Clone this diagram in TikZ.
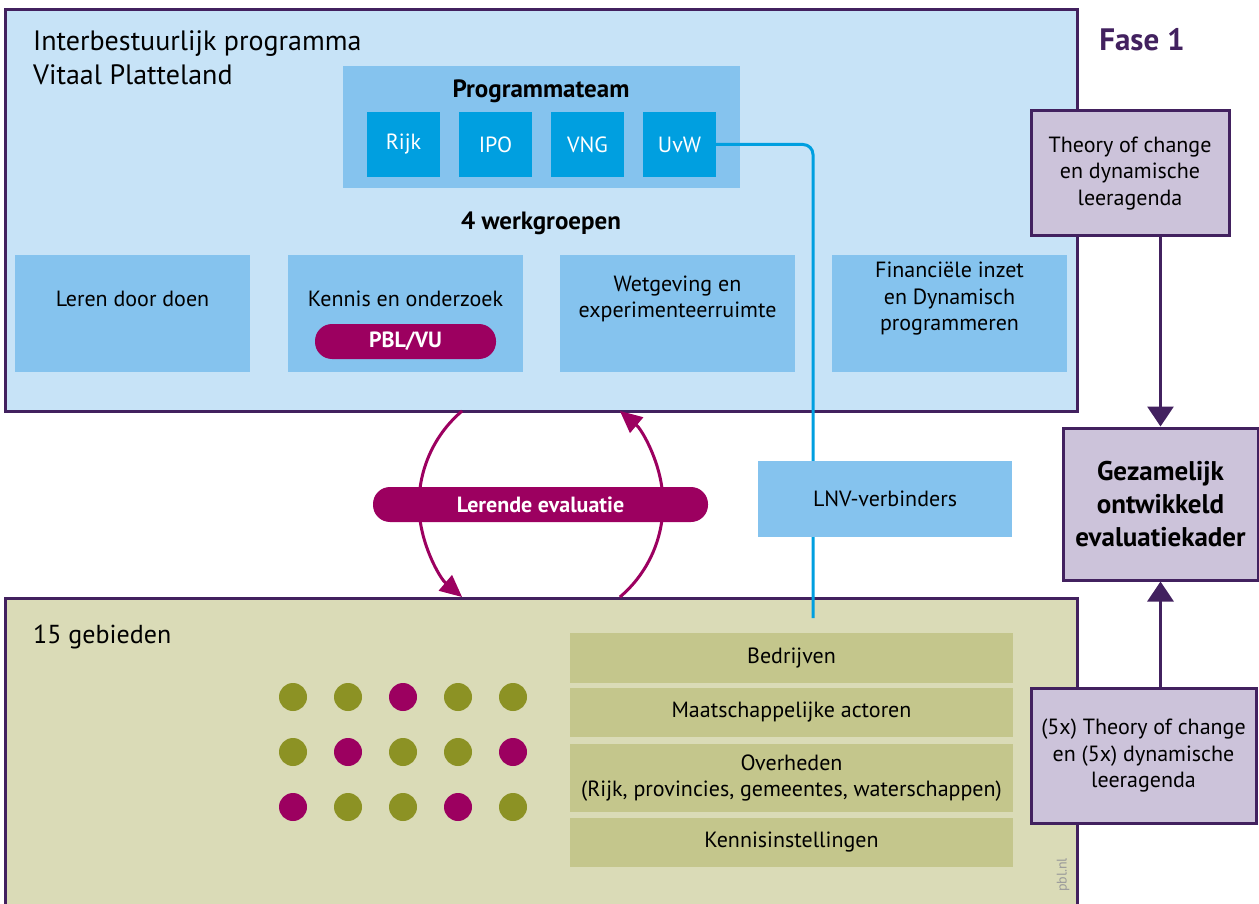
\documentclass[tikz,border=0pt]{standalone}
\usepackage{fontspec}
\setmainfont{PT Sans}
\usetikzlibrary{arrows.meta}

\definecolor{paars}{HTML}{42215F}
\definecolor{lichtblauw}{HTML}{C7E3F7}
\definecolor{middenblauw}{HTML}{85C3EE}
\definecolor{hemelblauw}{HTML}{009FE0}
\definecolor{lila}{HTML}{CCC3DA}
\definecolor{robijn}{HTML}{9C0060}
\definecolor{mosgroen}{HTML}{8C9224}
\definecolor{lichtgroen}{HTML}{DADBB7}
\definecolor{groenvak}{HTML}{C4C68C}
\definecolor{grijs}{HTML}{9A9A9A}

\newcommand\tekst{\fontsize{22}{26.5}\selectfont}
\newcommand\vet{\bfseries\fontsize{25}{26}\selectfont}
\newcommand\pilvet{\bfseries\fontsize{22}{26}\selectfont}
\newcommand\groot{\bfseries\fontsize{27}{33}\selectfont}
\newcommand\titel{\fontsize{28}{34}\selectfont}
\newcommand\gebiedfont{\fontsize{26}{30}\selectfont}
\newcommand\fase{\bfseries\fontsize{31}{34}\selectfont}
\newcommand\klein{\fontsize{14}{16}\selectfont}

\tikzset{
  kader/.style={draw=paars, line width=3pt, inner sep=0pt},
  blok/.style={fill=middenblauw, inner sep=0pt},
  lid/.style={fill=hemelblauw, text=white, minimum width=73pt, minimum height=65pt, inner sep=0pt, font=\tekst},
  groep/.style={blok, minimum width=235pt, minimum height=117pt},
  laag/.style={fill=groenvak, minimum width=443pt, inner sep=0pt, align=center, font=\tekst},
  pil/.style={fill=robijn, text=white, rounded corners=17pt, minimum height=35pt, inner sep=0pt, font=\pilvet},
  lila blok/.style={kader, fill=lila, align=center},
  pijl/.style={paars, line width=3pt, -{Triangle[length=20pt,width=26pt]}},
  lus/.style={robijn, line width=3pt, -{Triangle[length=22pt,width=20pt]}},
  lijn/.style={hemelblauw, line width=3pt, rounded corners=10pt},
}

\begin{document}
\begin{tikzpicture}[x=1pt, y=-1pt]
  \clip (0,0) rectangle (1259,904);
  \fill[white] (0,0) rectangle (1259,904);

  %A: Interbestuurlijk programma
  \node[kader, fill=lichtblauw, minimum width=1072pt, minimum height=401pt] (ibp) at (541,210.5) {};
  \node[anchor=north west, align=left, inner sep=0pt, font=\titel] (titel) at (33,30) {Interbestuurlijk programma\\Vitaal Platteland};
  \node[blok, minimum width=397pt, minimum height=122pt] (team) at (541.5,127) {};
  \node[font=\vet] (teamnaam) at (541,91) {Programmateam};
  \node[lid] (rijk) at (403.5,144.5) {Rijk};
  \node[lid] (ipo) at (495.5,144.5) {IPO};
  \node[lid] (vng) at (587.5,144.5) {VNG};
  \node[lid] (uvw) at (679.5,144.5) {UvW};

  %A: Werkgroepen
  \node[font=\vet] (werk) at (541,223) {4 werkgroepen};
  \node[groep] (wg1) at (132.5,313.5) {};
  \node[groep] (wg2) at (405.5,313.5) {};
  \node[groep] (wg3) at (677.5,313.5) {};
  \node[groep] (wg4) at (949.5,313.5) {};
  \node[font=\tekst, align=center] (wg1tekst) at (132.5,299) {Leren door doen};
  \node[font=\tekst, align=center] (wg2tekst) at (405.5,299) {Kennis en onderzoek};
  \node[font=\tekst, align=center] (wg3tekst) at (677.5,299) {Wetgeving en\\experimenteerruimte};
  \node[font=\tekst, align=center] (wg4tekst) at (949.5,299) {Financiële inzet\\en Dynamisch\\programmeren};
  \node[pil, minimum width=181pt] (pbl) at (405.5,341.5) {PBL/VU};

  %A: 15 gebieden
  \node[kader, fill=lichtgroen, minimum width=1072pt, minimum height=340pt, anchor=north] (gebied) at (541,597) {};
  \node[anchor=west, inner sep=0pt, font=\gebiedfont] (gebiednaam) at (33,637) {15 gebieden};
  \foreach \kleur [count=\i from 0] in {mosgroen,mosgroen,robijn,mosgroen,mosgroen,
      mosgroen,robijn,mosgroen,mosgroen,robijn,
      robijn,mosgroen,mosgroen,robijn,mosgroen}
  {
    \pgfmathtruncatemacro\kol{mod(\i,5)}
    \pgfmathtruncatemacro\rij{div(\i,5)}
    \fill[\kleur] (293+55*\kol, 697+55*\rij) circle (14);
  }
  \node[laag, minimum height=50pt] (bedrijven) at (791.5,658) {Bedrijven};
  \node[laag, minimum height=49pt] (actoren) at (791.5,712.5) {Maatschappelijke actoren};
  \node[laag, minimum height=68pt] (overheden) at (791.5,778) {Overheden\\(Rijk, provincies, gemeentes, waterschappen)};
  \node[laag, minimum height=49pt] (kennis) at (791.5,842.5) {Kennisinstellingen};

  %A: LNV-verbinders
  \coordinate (eind) at (813,618);
  \draw[lijn] (uvw.east) -| (eind);
  \node[blok, minimum width=254pt, minimum height=76pt, font=\tekst] (lnv) at (885,499) {LNV-verbinders};

  %A: Lerende evaluatie
  \coordinate (midden) at (541,504);
  \draw[lus] (midden) ++(229.7:122) arc[start angle=229.7, end angle=130.3, radius=122];
  \draw[lus] (midden) ++(49.7:122) arc[start angle=49.7, end angle=-49.7, radius=122];
  \node[pil, minimum width=335pt] (lerend) at (540.5,504.5) {Lerende evaluatie};

  %A: Fase 1
  \node[font=\fase, text=paars] (fase) at (1142,40) {Fase 1};
  \node[lila blok, minimum width=198pt, minimum height=125pt, font=\tekst] (toc) at (1130,173.5) {Theory of change\\en dynamische\\leeragenda};
  \node[lila blok, minimum width=195pt, minimum height=152pt, font=\groot] (gez) at (1160.5,504) {Gezamelijk\\ontwikkeld\\evaluatiekader};
  \node[lila blok, minimum width=225pt, minimum height=135pt, font=\tekst] (vijf) at (1143.5,755.5) {(5x) Theory of change\\en (5x) dynamische\\leeragenda};
  \draw[pijl] (toc.south -| gez) -- (gez.north);
  \draw[pijl] (vijf.north -| gez) -- (gez.south);

  \node[rotate=90, text=grijs, font=\klein] (bron) at (1063,875) {pbl.nl};
\end{tikzpicture}
\end{document}
